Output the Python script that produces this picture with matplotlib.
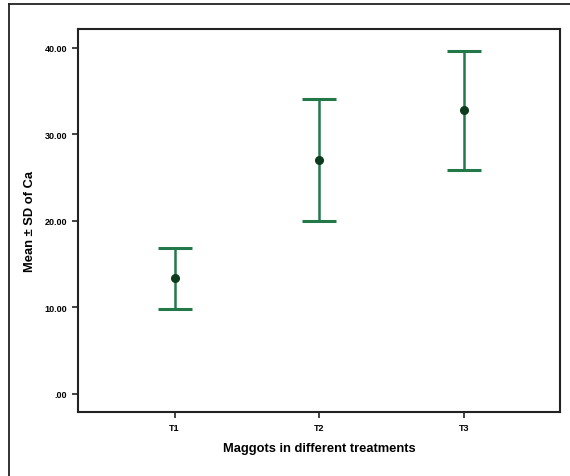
import matplotlib
matplotlib.use('Agg')
import matplotlib.pyplot as plt
from matplotlib.lines import Line2D

# Mean and SD of Ca for each treatment
treatments = ['T1', 'T2', 'T3']
means = [13.38, 27.05, 32.75]
sds = [3.52, 7.05, 6.83]

y_ticks = [0, 10, 20, 30, 40]
y_tick_labels = ['.00', '10.00', '20.00', '30.00', '40.00']

plt.rcParams['font.family'] = ['Liberation Sans', 'DejaVu Sans']

fig = plt.figure(figsize=(5.7, 4.77), dpi=100)
ax = fig.add_axes([0.1374, 0.1335, 0.8451, 0.8036])

x = list(range(1, len(treatments) + 1))
ax.errorbar(x, means, yerr=sds, fmt='o', color='#0d3b1e', ecolor='#23784a',
            elinewidth=1.8, capsize=11.9, capthick=2.2, markersize=5.5)

ax.set_xlim(0.335, 3.665)
ax.set_ylim(-2.14, 42.17)
ax.set_xticks(x)
ax.set_xticklabels(treatments, fontweight='bold')
ax.set_yticks(y_ticks)
ax.set_yticklabels(y_tick_labels, fontweight='bold')
ax.tick_params(axis='both', labelsize=6.5, length=4.5, width=1.2, color='#222222')

for sp in ax.spines.values():
    sp.set_linewidth(1.5)
    sp.set_color('#222222')

ax.set_xlabel('Maggots in different treatments', fontsize=9.3, fontweight='bold')
ax.set_ylabel('Mean \u00b1 SD of Ca', fontsize=9.3, fontweight='bold')
ax.xaxis.set_label_coords(0.5, -0.0775)
ax.yaxis.set_label_coords(-0.088, 0.5)

# outer frame around the figure (top and left edges visible)
fig.add_artist(Line2D([9 / 570, 9 / 570], [0, 1 - 5 / 477], transform=fig.transFigure,
                      color='#222222', linewidth=1.3))
fig.add_artist(Line2D([9 / 570, 1], [1 - 5 / 477, 1 - 5 / 477], transform=fig.transFigure,
                      color='#222222', linewidth=1.3))

fig.savefig('out.png', dpi=100)
